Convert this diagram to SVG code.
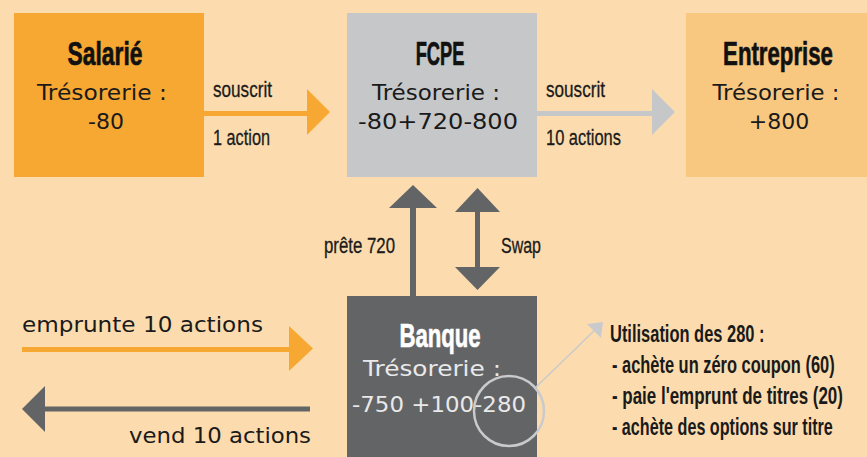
<svg xmlns="http://www.w3.org/2000/svg" width="867" height="457" viewBox="0 0 867 457">
  <style>
    .title { font-family: "Liberation Sans Narrow", "Liberation Sans", "DejaVu Sans Condensed", sans-serif; font-weight: bold; font-size: 33px; fill: #111; stroke: #111; stroke-width: 0.7px; text-anchor: middle; }
    .body { font-family: "DejaVu Sans", "Noto Sans", sans-serif; font-size: 22px; fill: #1a1a1a; text-anchor: middle; }
    .lbl { font-family: "Liberation Sans Narrow", "Liberation Sans", "DejaVu Sans Condensed", sans-serif; font-size: 22px; fill: #1a1a1a; stroke: #1a1a1a; stroke-width: 0.3px; }
    .wide { font-family: "DejaVu Sans", "Noto Sans", sans-serif; font-size: 21px; fill: #1a1a1a; }
    .note { font-family: "Liberation Sans Narrow", "Liberation Sans", "DejaVu Sans Condensed", sans-serif; font-weight: bold; font-size: 23px; fill: #1a1a1a; }
    .dark { fill: #e9e9ea; }
    .orange { fill: #f6a833; }
    .grey { fill: #636466; }
    .light { fill: #c6c7c9; }
  </style>

  <rect x="0" y="0" width="867" height="457" fill="#fcdcae"/>

  <!-- Salarié -->
  <g id="salarie">
    <rect x="14" y="13" width="190" height="164" fill="#f6a833"/>
    <text class="title" transform="translate(105,65) scale(0.85,1)" x="0" y="0" textLength="88" lengthAdjust="spacingAndGlyphs">Salarié</text>
    <text class="body" x="102" y="100" textLength="130" lengthAdjust="spacingAndGlyphs">Trésorerie :</text>
    <text class="body" x="106" y="129">-80</text>
  </g>

  <!-- FCPE -->
  <g id="fcpe">
    <rect x="347" y="13" width="190" height="164" fill="#c6c7c9"/>
    <text class="title" transform="translate(440,65) scale(0.75,1)" x="0" y="0" textLength="65" lengthAdjust="spacingAndGlyphs">FCPE</text>
    <text class="body" x="436" y="100" textLength="128" lengthAdjust="spacingAndGlyphs">Trésorerie :</text>
    <text class="body" x="438" y="129" textLength="160" lengthAdjust="spacingAndGlyphs">-80+720-800</text>
  </g>

  <!-- Entreprise -->
  <g id="entreprise">
    <rect x="686" y="13" width="190" height="164" fill="#f8c880"/>
    <text class="title" transform="translate(778,65) scale(0.82,1)" x="0" y="0" textLength="134" lengthAdjust="spacingAndGlyphs">Entreprise</text>
    <text class="body" x="776" y="100" textLength="127" lengthAdjust="spacingAndGlyphs">Trésorerie :</text>
    <text class="body" x="779" y="129">+800</text>
  </g>

  <!-- Banque -->
  <g id="banque">
    <rect x="347" y="296" width="190" height="161" fill="#636466"/>
    <text class="title" transform="translate(440,347) scale(0.82,1)" x="0" y="0" style="fill:#ffffff; stroke:#ffffff" textLength="99" lengthAdjust="spacingAndGlyphs">Banque</text>
    <text class="body dark" x="432" y="376" textLength="138" lengthAdjust="spacingAndGlyphs">Trésorerie :</text>
    <text class="body dark" x="439" y="412" textLength="174" lengthAdjust="spacingAndGlyphs">-750 +100-280</text>
    <circle cx="509" cy="411" r="35" fill="none" stroke="#c9cacc" stroke-width="2.5"/>
  </g>

  <!-- Utilisation des 280 -->
  <g id="utilisation">
    <text class="note" transform="translate(610,342) scale(0.92,1)" x="0" y="0" textLength="168" lengthAdjust="spacingAndGlyphs">Utilisation des 280 :</text>
    <text class="note" transform="translate(612,373) scale(0.92,1)" x="0" y="0" textLength="242" lengthAdjust="spacingAndGlyphs">- achète un zéro coupon (60)</text>
    <text class="note" transform="translate(612,404) scale(0.92,1)" x="0" y="0" textLength="251" lengthAdjust="spacingAndGlyphs">- paie l'emprunt de titres (20)</text>
    <text class="note" transform="translate(612,435) scale(0.92,1)" x="0" y="0" textLength="240" lengthAdjust="spacingAndGlyphs">- achète des options sur titre</text>
  </g>

  <!-- connectors -->
  <g id="connectors">
    <!-- Salarié to FCPE -->
    <rect class="orange" x="204" y="111" width="104" height="5"/>
    <polygon class="orange" points="307,89 330,112 307,135"/>
    <!-- FCPE to Entreprise -->
    <rect class="light" x="537" y="111" width="116" height="5"/>
    <polygon class="light" points="652,89 675,112 652,135"/>
    <!-- Banque to FCPE: prête 720 -->
    <rect class="grey" x="410" y="207" width="6" height="89"/>
    <polygon class="grey" points="389,208 413,185 437,208"/>
    <!-- Swap -->
    <rect class="grey" x="475" y="211" width="5" height="57"/>
    <polygon class="grey" points="455,212 477.5,188 500,212"/>
    <polygon class="grey" points="455,267 477.5,290 500,267"/>
    <!-- emprunte 10 actions -->
    <rect class="orange" x="22" y="347" width="268" height="5"/>
    <polygon class="orange" points="289,326 313,348.5 289,371"/>
    <!-- vend 10 actions -->
    <rect class="grey" x="44" y="406.5" width="266" height="5"/>
    <polygon class="grey" points="45,386 22,409 45,432"/>
    <!-- pointer from the 280 to its breakdown -->
    <line x1="535" y1="388" x2="597" y2="328" stroke="#c9cacc" stroke-width="1.5"/>
    <polygon points="603,322 587,324 601,338" fill="#c9cacc"/>
  </g>

  <!-- connector labels -->
  <g id="labels">
    <text class="lbl" x="213" y="97" textLength="59" lengthAdjust="spacingAndGlyphs">souscrit</text>
    <text class="lbl" x="213" y="145" textLength="57" lengthAdjust="spacingAndGlyphs">1 action</text>
    <text class="lbl" x="546" y="97" textLength="59" lengthAdjust="spacingAndGlyphs">souscrit</text>
    <text class="lbl" x="546" y="145" textLength="75" lengthAdjust="spacingAndGlyphs">10 actions</text>
    <text class="lbl" x="324" y="253" textLength="71" lengthAdjust="spacingAndGlyphs">prête 720</text>
    <text class="lbl" x="501" y="253" textLength="40" lengthAdjust="spacingAndGlyphs">Swap</text>
    <text class="wide" x="22" y="332" textLength="241" lengthAdjust="spacingAndGlyphs">emprunte 10 actions</text>
    <text class="wide" x="129" y="443" textLength="182" lengthAdjust="spacingAndGlyphs">vend 10 actions</text>
  </g>
</svg>
